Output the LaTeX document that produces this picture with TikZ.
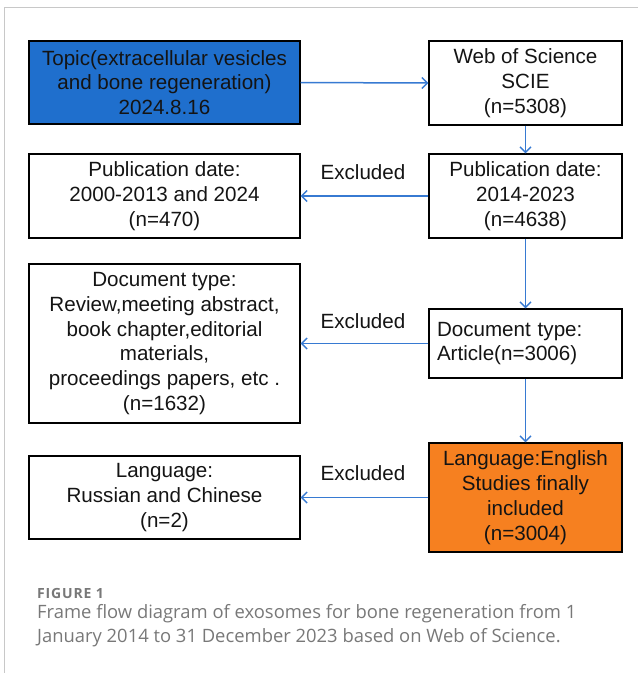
\documentclass[tikz,border=0pt]{standalone}
\usepackage{fontspec}
\setmainfont{Liberation Sans}
\newfontfamily\capfont{Open Sans}
\newfontfamily\figfont[LetterSpace=6]{Open Sans}
\usetikzlibrary{arrows.meta}
\definecolor{topicblue}{RGB}{31,111,205}
\definecolor{incorange}{RGB}{246,128,32}
\definecolor{arrowblue}{RGB}{55,122,210}
\definecolor{framegray}{RGB}{200,200,200}
\definecolor{capgray}{RGB}{120,120,120}
\tikzset{
  box/.style={draw=black, line width=1.4pt, rectangle, inner sep=0pt, align=center,
    font=\fontsize{20.6}{24.8}\selectfont, text=black!92},
  flow/.style={draw=arrowblue, line width=1.5pt, -{Straight Barb[length=5.5pt,width=11pt,line width=1.4pt]}},
  exlabel/.style={font=\fontsize{20.6}{24}\selectfont, text=black!92, inner sep=0pt},
}
\begin{document}
\begin{tikzpicture}[x=1pt,y=-1pt]
\useasboundingbox (0,0) rectangle (638,673);
\draw[framegray, line width=1pt] (4,673) -- (4,7) -- (638,7);

\node[box, fill=topicblue, minimum width=271pt, minimum height=83pt] (topic) at (164.5,82.5)
  {Topic(extracellular vesicles\\and bone regeneration)\\2024.8.16};
\node[box, minimum width=193pt, minimum height=84pt] (wos) at (525.5,83)
  {Web of Science\\SCIE\\(n=5308)};
\node[box, minimum width=271pt, minimum height=84pt] (pubL) at (164.5,196)
  {Publication date:\\2000-2013 and 2024\\(n=470)};
\node[box, minimum width=193pt, minimum height=84pt] (pubR) at (525.5,196)
  {Publication date:\\2014-2023\\(n=4638)};
\node[box, minimum width=271pt, minimum height=159pt] (docL) at (164.5,343.5)
  {Document type:\\Review,meeting abstract,\\book chapter,editorial\\materials,\\proceedings papers, etc .\\(n=1632)};
\node[box, minimum width=193pt, minimum height=69pt, align=left, text width=177pt] (docR) at (525.5,343.5)
  {Document type:\\Article(n=3006)\\[-4pt]};
\node[box, minimum width=271pt, minimum height=83pt] (langL) at (164.5,497.5)
  {Language:\\Russian and Chinese\\(n=2)};
\node[box, fill=incorange, minimum width=193pt, minimum height=109pt] (langR) at (525.5,497.5)
  {Language:English\\Studies finally\\included\\(n=3004)};

\node[exlabel] (ex1) at (363,172) {Excluded};
\node[exlabel] (ex2) at (363,321) {Excluded};
\node[exlabel] (ex3) at (363,473) {Excluded};

\draw[flow] (topic.east) -- (wos.west);
\draw[flow] (wos.south) -- (pubR.north);
\draw[flow] (pubR.west) -- (pubL.east);
\draw[flow] (pubR.south) -- (docR.north);
\draw[flow] (docR.west) -- (docL.east);
\draw[flow] (docR.south) -- (langR.north);
\draw[flow] (langR.west) -- (langL.east);

\node[anchor=base west, inner sep=0pt, text=capgray, font=\figfont\bfseries\fontsize{14}{14}\selectfont] (fig) at (37,598) {FIGURE 1};
\node[anchor=base west, inner sep=0pt, text=capgray, font=\capfont\fontsize{18.4}{18.4}\selectfont] (cap1) at (37,618)
  {Frame flow diagram of exosomes for bone regeneration from 1};
\node[anchor=base west, inner sep=0pt, text=capgray, font=\capfont\fontsize{18.4}{18.4}\selectfont] (cap2) at (37,642)
  {January 2014 to 31 December 2023 based on Web of Science.};
\end{tikzpicture}
\end{document}
